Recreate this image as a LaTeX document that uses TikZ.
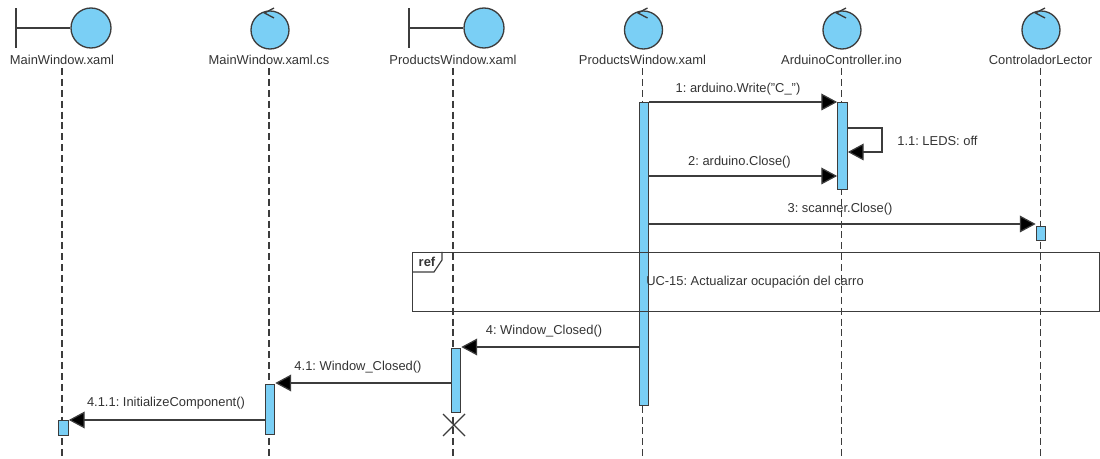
\documentclass[tikz,border=0pt]{standalone}
\usepackage{fontspec}
\setmainfont{Liberation Sans}
\usetikzlibrary{arrows.meta}
\definecolor{BarBlue}{RGB}{122,207,245}
\definecolor{LineGray}{RGB}{60,60,60}
\tikzset{
  actor/.style={circle,draw=LineGray,fill=BarBlue,line width=0.75pt,inner sep=0pt},
  actorline/.style={draw=LineGray,line width=0.75pt},
  lifeline/.style={draw=LineGray,line width=0.6pt,dash pattern=on 4pt off 2.2pt},
  bar/.style={rectangle,draw=LineGray,fill=BarBlue,line width=0.65pt,inner sep=0pt,
    minimum width=0.19cm,anchor=north},
  msg/.style={draw=LineGray,line width=0.7pt,-{Triangle[length=9pt,width=9.5pt,fill=black]}},
  frameline/.style={draw=LineGray,line width=0.7pt},
  lbl/.style={text=black!80,font=\fontsize{7.35}{9}\selectfont\frenchspacing,inner sep=0pt},
}
\begin{document}
\begin{tikzpicture}[x=0.02cm,y=-0.02cm]
  \useasboundingbox (0,0) rectangle (1100,459);
  % actors
  \node[actor,minimum size=0.8cm] (mwc) at (91,28) {};
  \node[actor,minimum size=0.76cm] (mcc) at (270,30) {};
  \node[actor,minimum size=0.8cm] (pwc) at (484,28) {};
  \node[actor,minimum size=0.76cm] (ppc) at (643.5,30) {};
  \node[actor,minimum size=0.76cm] (acc) at (842,30) {};
  \node[actor,minimum size=0.76cm] (clc) at (1041,30) {};
  \coordinate (mwb) at (16,28);
  \coordinate (pwb) at (409,28);
  \foreach \b/\c in {mwb/mwc,pwb/pwc} {
    \draw[actorline] (\b) -- (\c);
    \draw[actorline] ([yshift=-0.4cm]\b) -- ([yshift=0.4cm]\b);
  }
  \foreach \c in {mcc,ppc,acc,clc}
    \draw[actorline] ([shift={(4,-22)}]\c.center) -- ([shift={(-5.5,-17)}]\c.center) -- ([shift={(4,-12)}]\c.center);
  % lifelines
  \foreach \n/\x/\t in {mw/62/MainWindow.xaml,mc/269/MainWindow.xaml.cs,pw/453/ProductsWindow.xaml,
      pp/642.5/ProductsWindow.xaml,ac/841.5/ArduinoController.ino,cl/1040.5/ControladorLector} {
    \node[lbl] (\n) at (\x,60) {\t};
    \coordinate (\n end) at (\x,459);
    \draw[lifeline] (\x,68) -- (\n end);
  }
  % bars
  \node[bar,minimum height=6.06cm] (ppbar) at (644,102) {};
  \node[bar,minimum height=1.74cm] (acbar) at (842.5,102) {};
  \node[bar,minimum height=0.28cm] (clbar) at (1041,226) {};
  \node[bar,minimum height=1.28cm] (pwbar) at (456,348) {};
  \node[bar,minimum height=1.00cm] (mcbar) at (270,384) {};
  \node[bar,minimum height=0.30cm] (mwbar) at (63.5,420) {};
  % messages
  \coordinate (m1) at (0,102);
  \coordinate (m2) at (0,176);
  \coordinate (m3) at (0,224);
  \coordinate (m4) at (0,347);
  \coordinate (m5) at (0,383);
  \coordinate (m6) at (0,420);
  \coordinate (s1) at (0,128);
  \coordinate (s2) at (0,152);
  \coordinate (selfa) at (882,128);
  \coordinate (selfb) at (882,152);
  \draw[msg] (ppbar.east |- m1) -- (acbar.west |- m1);
  \draw[msg] (acbar.east |- s1) -- (selfa) -- (selfb) -- (acbar.east |- s2);
  \draw[msg] (ppbar.east |- m2) -- (acbar.west |- m2);
  \draw[msg] (ppbar.east |- m3) -- (clbar.west |- m3);
  \draw[msg] (ppbar.west |- m4) -- (pwbar.east |- m4);
  \draw[msg] (pwbar.west |- m5) -- (mcbar.east |- m5);
  \draw[msg] (mcbar.west |- m6) -- (mwbar.east |- m6);
  \node[lbl] (l1) at (738,89) {1: arduino.Write("C\_")};
  \node[lbl,anchor=west] (l11) at (897,141) {1.1: LEDS: off};
  \node[lbl] (l2) at (739.5,162) {2: arduino.Close()};
  \node[lbl] (l3) at (840,209) {3: scanner.Close()};
  \node[lbl] (l4) at (544,331) {4: Window\_Closed()};
  \node[lbl] (l41) at (358,367) {4.1: Window\_Closed()};
  \node[lbl] (l411) at (166,403) {4.1.1: InitializeComponent()};
  % ref frame
  \node[frameline,rectangle,draw,inner sep=0pt,anchor=north west,minimum width=13.75cm,minimum height=1.18cm] (refbox) at (412,252) {};
  \coordinate (reftl) at (412,272);
  \coordinate (refm) at (434,272);
  \coordinate (refn) at (442,260);
  \coordinate (reft) at (442,252);
  \draw[frameline] (reftl) -- (refm) -- (refn) -- (reft);
  \node[lbl,font=\fontsize{7.35}{9}\selectfont\bfseries] (reftag) at (427,262) {ref};
  \node[lbl] (uc) at (755,282) {UC-15: Actualizar ocupación del carro};
  % destroy mark
  \coordinate (xa) at (443,414);
  \coordinate (xb) at (465,436);
  \coordinate (xc) at (465,414);
  \coordinate (xd) at (443,436);
  \draw[actorline] (xa) -- (xb);
  \draw[actorline] (xc) -- (xd);
\end{tikzpicture}
\end{document}
